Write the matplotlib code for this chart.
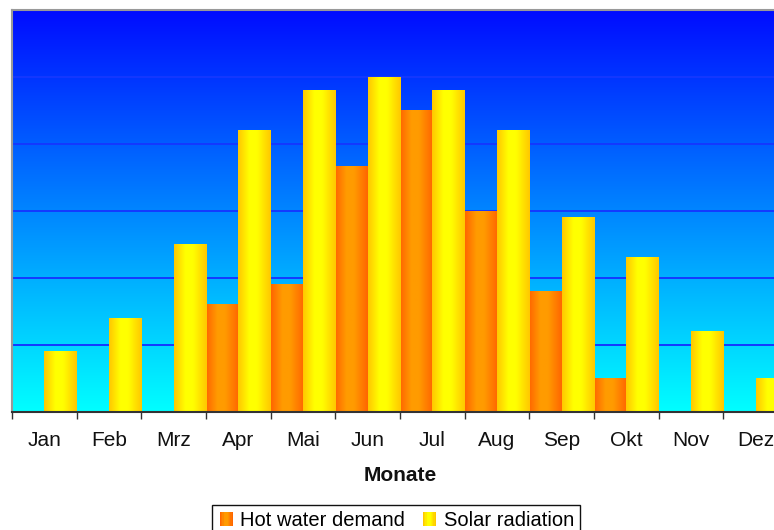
import numpy as np
import matplotlib
matplotlib.use("Agg")
import matplotlib.pyplot as plt
from matplotlib.patches import Rectangle
from matplotlib.legend_handler import HandlerBase

plt.rcParams['font.family'] = ['Liberation Sans', 'DejaVu Sans']

# ========== Data ==========
months = ['Jan', 'Feb', 'Mrz', 'Apr', 'Mai', 'Jun', 'Jul', 'Aug', 'Sep', 'Okt', 'Nov', 'Dez']
hot_water = [0, 0, 0, 80, 95, 183, 225, 150, 90, 25, 0, 0]
solar = [45, 70, 125, 210, 240, 250, 240, 210, 145, 115, 60, 25]

ORANGE_EDGE = np.array([255, 102, 0]) / 255
ORANGE_MID = np.array([255, 155, 0]) / 255
YELLOW_EDGE = np.array([255, 200, 0]) / 255
YELLOW_MID = np.array([255, 255, 0]) / 255


def h_gradient(edge, mid, n=64, peak=0.45):
    t = np.linspace(0, 1, n)
    w = np.where(t < peak, t / peak, (1 - t) / (1 - peak))
    w = np.clip(w * 1.3, 0, 1)
    cols = edge[None, :] * (1 - w[:, None]) + mid[None, :] * w[:, None]
    return cols[None, :, :]


class GradHandler(HandlerBase):
    def __init__(self, edge, mid):
        super().__init__()
        self.edge, self.mid = edge, mid

    def create_artists(self, legend, orig, xd, yd, width, height, fontsize, trans):
        cols = h_gradient(self.edge, self.mid, n=10)[0]
        s = height * 0.95
        x0 = -xd + (width - s) / 2
        step = s / len(cols)
        arts = []
        for i, c in enumerate(cols):
            r = Rectangle((x0 + i * step, -yd + (height - s) / 2), step * 1.05, s,
                          facecolor=c, edgecolor='none', transform=trans)
            arts.append(r)
        return arts


fig = plt.figure(figsize=(7.74, 5.30), dpi=100)
W, H = 774, 530
ax = fig.add_axes([12 / W, (H - 412) / H, 776 / W, 402 / H])

x = np.arange(len(months))
bw = 0.5
b1 = ax.bar(x - bw / 2, hot_water, width=bw, color='none', zorder=3)
b2 = ax.bar(x + bw / 2, solar, width=bw, color='none', zorder=3)

for bars, edge, mid in [(b1, ORANGE_EDGE, ORANGE_MID), (b2, YELLOW_EDGE, YELLOW_MID)]:
    grad = h_gradient(edge, mid)
    for b in bars:
        h = b.get_height()
        if h <= 0:
            continue
        ax.imshow(grad, extent=[b.get_x(), b.get_x() + b.get_width(), 0, h],
                  aspect='auto', interpolation='bilinear', zorder=3)

ax.set_xlim(-0.5, len(months) - 0.5)
ax.set_ylim(0, 300)

# background gradient: blue at top, cyan at bottom
tv = np.linspace(0, 1, 256)[:, None]
top = np.array([0, 12, 255]) / 255
bot = np.array([0, 255, 255]) / 255
bg = top[None, None, :] * (1 - tv[:, :, None]) + bot[None, None, :] * tv[:, :, None]
ax.imshow(bg, extent=[0, 1, 0, 1], transform=ax.transAxes, aspect='auto', zorder=0)

ax.set_yticks(np.arange(0, 301, 50))
ax.yaxis.grid(True, color='#1438ff', linewidth=1.4, zorder=1)
ax.set_axisbelow(True)
ax.tick_params(axis='y', left=False, labelleft=False)

ax.set_xticks(x)
ax.set_xticklabels(months, fontsize=15, color='#111111')
ax.tick_params(axis='x', length=0, pad=14)
ax.set_xticks(np.arange(-0.5, len(months), 1), minor=True)
ax.tick_params(axis='x', which='minor', length=5, width=1, color='#333333', direction='out')

ax.set_xlabel('Monate', fontsize=15, fontweight='bold', labelpad=11, color='#111111')

for s in ['left', 'top']:
    ax.spines[s].set_color('#999999')
    ax.spines[s].set_linewidth(1.5)
ax.spines['right'].set_visible(False)
ax.spines['bottom'].set_color('#333333')
ax.spines['bottom'].set_linewidth(1.5)
ax.spines['bottom'].set_zorder(5)

h1 = Rectangle((0, 0), 1, 1)
h2 = Rectangle((0, 0), 1, 1)
leg = fig.legend([h1, h2], ['Hot water demand', 'Solar radiation'],
                 handler_map={h1: GradHandler(ORANGE_EDGE, ORANGE_MID),
                              h2: GradHandler(YELLOW_EDGE, YELLOW_MID)},
                 loc='upper center', bbox_to_anchor=(396 / W, 1 - 505 / H),
                 borderaxespad=0,
                 ncol=2, fontsize=14.5, frameon=True, fancybox=False,
                 handlelength=0.8, handletextpad=0.3, columnspacing=0.8,
                 borderpad=0.3, edgecolor='#111111', framealpha=1)
leg.get_frame().set_linewidth(1.0)

fig.savefig('out.png', dpi=100)
